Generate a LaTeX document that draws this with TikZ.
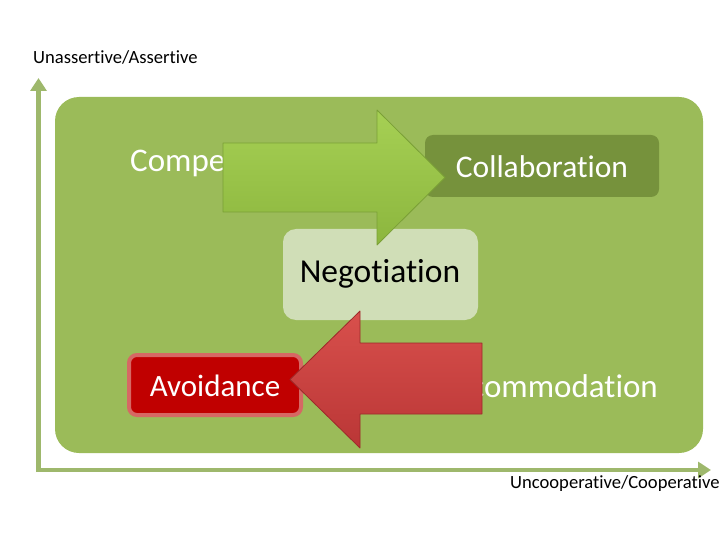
\documentclass[tikz,border=0pt]{standalone}
\usepackage{fontspec}
\setmainfont{Carlito}[Ligatures={NoCommon}]
\usetikzlibrary{arrows.meta}
\definecolor{bggreen}{RGB}{155,187,89}
\definecolor{axisgreen}{RGB}{158,184,108}
\definecolor{darkgreen}{RGB}{118,146,60}
\definecolor{palegreen}{RGB}{208,222,183}
\definecolor{avred}{RGB}{192,0,0}
\definecolor{avborder}{RGB}{214,104,100}
\definecolor{arrgreenT}{RGB}{166,208,84}
\definecolor{arrgreenB}{RGB}{140,182,62}
\definecolor{arrgreenE}{RGB}{122,160,54}
\definecolor{arrredT}{RGB}{216,80,76}
\definecolor{arrredB}{RGB}{186,54,54}
\definecolor{arrredE}{RGB}{156,42,42}
\tikzset{
  axisline/.style={draw=axisgreen, line width=4.5pt, -{Triangle[length=13pt,width=16pt]}},
  axislabel/.style={font=\fontsize{18.6}{20}\selectfont, text=black, inner sep=0pt, anchor=west},
  biglabel/.style={inner sep=0pt, text=white},
  greenarrow/.style={top color=arrgreenT, bottom color=arrgreenB, draw=arrgreenE, line width=0.8pt, line join=round},
  redarrow/.style={top color=arrredT, bottom color=arrredB, draw=arrredE, line width=0.8pt, line join=round},
}
\begin{document}
\begin{tikzpicture}[x=1pt,y=-1pt]
\useasboundingbox (0,0) rectangle (720,540);
% background panel
\fill[bggreen, rounded corners=24pt] (55,97) rectangle (703,453);
% axes
\coordinate (origin) at (38.5,470);
\coordinate (ytip) at (38.5,78);
\coordinate (xtip) at (711,470);
\draw[axisline] ([yshift=-2pt]origin) -- (ytip);
\draw[axisline] ([xshift=-2pt]origin) -- (xtip);
\node[axislabel] (ylab) at (33,57) {Unassertive/Assertive};
\node[axislabel] (xlab) at (510,484) {Uncooperative/Cooperative};
% texts under arrows
\node[biglabel, anchor=west, font=\fontsize{33}{36}\selectfont] (comp) at (130,163) {Competition};
\node[biglabel, anchor=east, font=\fontsize{33}{36}\selectfont] (accom) at (658,386) {Accommodation};
% boxes
\fill[darkgreen, rounded corners=8pt] (425,135) rectangle (659,197);
\node[biglabel, font=\fontsize{31.5}{34}\selectfont] (collab) at (542,167) {Collaboration};
\fill[palegreen, rounded corners=13pt] (283,229) rectangle (478,320);
\node[inner sep=0pt, text=black, font=\fontsize{33.5}{36}\selectfont] (nego) at (380,274) {Negotiation};
\draw[fill=avred, draw=avborder, line width=4pt, rounded corners=8pt] (129,355) rectangle (301,415);
\node[biglabel, font=\fontsize{31}{34}\selectfont] (avoid) at (215,386) {Avoidance};
% arrows
\draw[greenarrow] (223,143) -- (377,143) -- (377,110) -- (445,177.5) -- (377,245) -- (377,212) -- (223,212) -- cycle;
\draw[redarrow] (482,343) -- (360,343) -- (360,311) -- (290,379.5) -- (360,448) -- (360,414) -- (482,414) -- cycle;
\end{tikzpicture}
\end{document}
